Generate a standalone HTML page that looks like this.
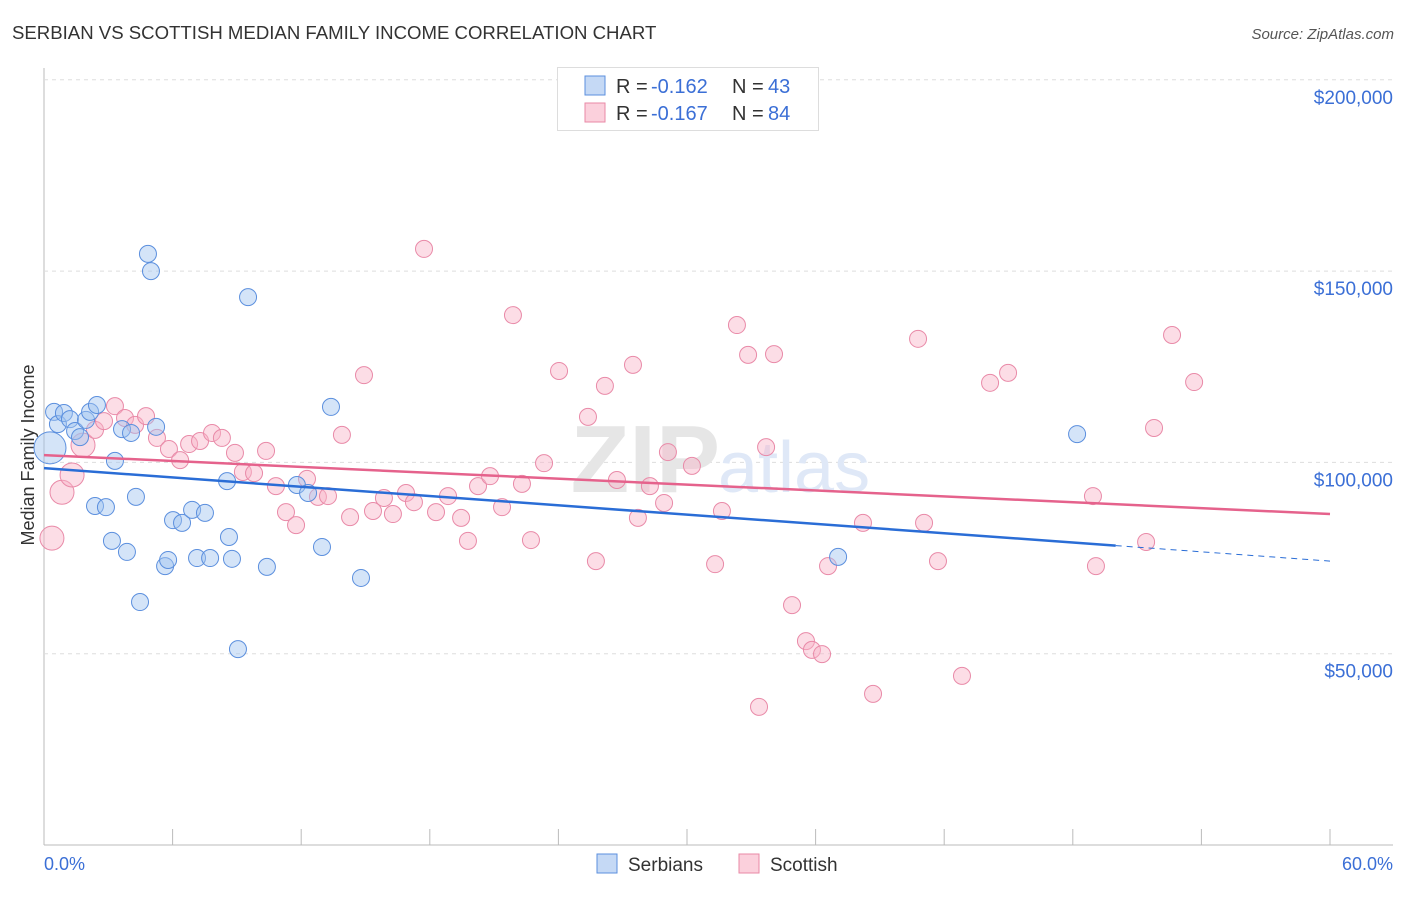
<!DOCTYPE html>
<html><head><meta charset="utf-8"><style>
body{margin:0;background:#fff;font-family:"Liberation Sans",sans-serif;}
svg text{font-family:"Liberation Sans",sans-serif;}
</style></head><body>
<svg id="chart" width="1406" height="892" viewBox="0 0 1406 892">
<text x="12" y="39" font-size="18.6" fill="#333">SERBIAN VS SCOTTISH MEDIAN FAMILY INCOME CORRELATION CHART</text>
<text x="1394" y="39" font-size="15" fill="#555" font-style="italic" text-anchor="end">Source: ZipAtlas.com</text>
<text transform="translate(34,455) rotate(-90)" font-size="18" fill="#333" text-anchor="middle">Median Family Income</text>
<g id="grid"></g>
<text x="720" y="492" font-size="96" font-family="Liberation Serif" fill="#e6e6e6" text-anchor="end" font-weight="bold">ZIP</text>
<text x="718" y="492" font-size="72" fill="#dfe8f7">atlas</text>
<g id="pts"></g>
<g id="lines"></g>
<g>
<rect x="557.5" y="67.5" width="261" height="63" fill="#fff" stroke="#ddd"/>
<rect x="585" y="76" width="20" height="19" fill="#c5d9f5" stroke="#5b8fde"/>
<rect x="585" y="103" width="20" height="19" fill="#fbd0dc" stroke="#e889a6"/>
<g font-size="20">
<text x="616" y="93" fill="#333">R =</text><text x="651" y="93" fill="#3b6fd6">-0.162</text>
<text x="732" y="93" fill="#333">N =</text><text x="768" y="93" fill="#3b6fd6">43</text></g>
<g font-size="20">
<text x="616" y="120" fill="#333">R =</text><text x="651" y="120" fill="#3b6fd6">-0.167</text>
<text x="732" y="120" fill="#333">N =</text><text x="768" y="120" fill="#3b6fd6">84</text></g>
</g>
<text x="44" y="870" font-size="18" fill="#3b6fd6">0.0%</text>
<text x="1393" y="870" font-size="18" fill="#3b6fd6" text-anchor="end">60.0%</text>
<rect x="597" y="854" width="20" height="19" fill="#c5d9f5" stroke="#5b8fde"/>
<text x="628" y="871" font-size="19" fill="#333">Serbians</text>
<rect x="739" y="854" width="20" height="19" fill="#fbd0dc" stroke="#e889a6"/>
<text x="770" y="871" font-size="19" fill="#333">Scottish</text>
</svg>
<script>
const yTicks=[50000,100000,150000,200000];
const yTickLabels=["$50,000","$100,000","$150,000","$200,000"];
const blueX=[0.28,0.47,0.65,0.93,1.21,1.45,1.68,1.96,2.15,2.47,2.38,2.89,3.17,3.31,3.64,3.87,4.06,4.29,4.48,4.85,4.99,5.23,5.65,5.79,6.02,6.44,6.91,7.14,7.51,7.75,8.54,8.63,8.77,9.05,9.52,10.40,11.80,12.32,12.97,13.39,14.79,37.05,48.20];
const blueY=[103.8,113.2,110.0,112.9,111.3,108.2,106.6,111.1,113.2,115.0,88.6,88.3,79.5,100.4,108.7,76.6,107.7,91.0,63.5,154.5,150.0,109.3,72.9,74.5,84.9,84.2,87.6,75.0,86.8,75.0,95.1,80.5,74.8,51.2,143.2,72.7,94.1,92.0,77.9,114.5,69.8,75.3,107.4];
const pinkX=[0.37,0.84,1.31,1.82,2.38,2.80,3.31,3.78,4.25,4.76,5.27,5.83,6.35,6.77,7.28,7.84,8.30,8.91,9.28,9.80,10.36,10.82,11.29,11.76,12.27,12.78,13.25,13.90,14.28,14.93,15.35,15.86,16.28,16.89,17.26,17.73,18.29,18.85,19.46,19.78,20.25,20.81,21.37,21.88,22.30,22.72,23.33,24.03,25.38,25.75,26.17,26.73,27.48,27.71,28.27,28.93,29.11,30.23,31.31,31.63,32.33,32.85,33.36,33.69,34.06,34.90,35.55,35.83,36.30,36.58,38.21,38.68,40.78,41.06,41.71,42.83,44.14,44.98,48.94,49.08,51.42,51.79,52.63,53.66];
const pinkY=[80.2,92.2,96.7,104.5,108.5,110.8,114.7,111.6,109.8,112.1,106.4,103.5,100.6,104.8,105.6,107.7,106.4,102.5,97.5,97.2,103.0,93.8,87.0,83.6,95.7,91.0,91.2,107.2,85.7,122.8,87.3,90.7,86.5,92.0,89.6,155.8,87.0,91.2,85.5,79.5,93.8,96.4,88.3,138.5,94.4,79.7,99.8,123.9,111.9,74.2,120.0,95.4,125.5,85.5,93.8,89.4,102.7,99.1,73.4,87.3,135.9,128.1,36.1,104.0,128.3,62.7,53.3,51.0,49.9,72.9,84.2,39.5,132.3,84.2,74.2,44.2,120.8,123.4,91.2,72.9,79.2,109.0,133.3,121.0];
const blueTrend=[98.5,74.2];
const pinkTrend=[101.9,86.5];
const xs=v=>44+v/60*1286;
const ys=v=>845-v/50000*191.3;
const NS="http://www.w3.org/2000/svg";
function mk(tag,attrs,parent){const e=document.createElementNS(NS,tag);for(const k in attrs)e.setAttribute(k,attrs[k]);parent.appendChild(e);return e;}
const grid=document.getElementById('grid');
let ax=mk('line',{x1:44,y1:68,x2:44,y2:845,stroke:'#bbb'},grid);


let bx=mk('line',{x1:44,y1:845,x2:1393,y2:845,stroke:'#bbb'},grid);


yTicks.forEach((t,i)=>{
 const g=mk('line',{x1:44,x2:1393,y1:ys(t),y2:ys(t),stroke:'#ddd','stroke-dasharray':'4,4'},grid);
 
 
 const l=mk('text',{x:1393,y:ys(t)+24,'font-size':19,fill:'#3b6fd6','text-anchor':'end'},grid);
 l.textContent=yTickLabels[i];
 
 
});
for(let i=0;i<=10;i++){
 const t=mk('line',{x1:xs(i*6),x2:xs(i*6),y1:829,y2:845,stroke:'#bbb'},grid);
 
 
}
const pts=document.getElementById('pts');
function drawPts(X,Y,fill,stroke,name,bigR){
 X.forEach((x,i)=>{
  const r=(i<bigR.length)?bigR[i]:8.5;
  const c=mk('circle',{cx:xs(x),cy:ys(Y[i]*1000),r:r,fill:fill,stroke:stroke,'stroke-width':1},pts);
  
  
 });
}
drawPts(pinkX,pinkY,'rgba(248,180,200,0.45)','#e98aa8','scottish-point',[12,12,12,12]);
drawPts(blueX,blueY,'rgba(160,195,240,0.45)','#5b8fde','serbian-point',[16]);
const lines=document.getElementById('lines');
const bEnd=50;
let b1=mk('line',{x1:xs(0),y1:ys(blueTrend[0]*1000),x2:xs(bEnd),y2:ys((blueTrend[0]+(blueTrend[1]-blueTrend[0])*bEnd/60)*1000),stroke:'#2a6dd6','stroke-width':2.5},lines);


let b2=mk('line',{x1:xs(bEnd),y1:ys((blueTrend[0]+(blueTrend[1]-blueTrend[0])*bEnd/60)*1000),x2:xs(60),y2:ys(blueTrend[1]*1000),stroke:'#2a6dd6','stroke-width':1,'stroke-dasharray':'6,5'},lines);


let p1=mk('line',{x1:xs(0),y1:ys(pinkTrend[0]*1000),x2:xs(60),y2:ys(pinkTrend[1]*1000),stroke:'#e5628c','stroke-width':2.5},lines);


</script>
</body></html>
